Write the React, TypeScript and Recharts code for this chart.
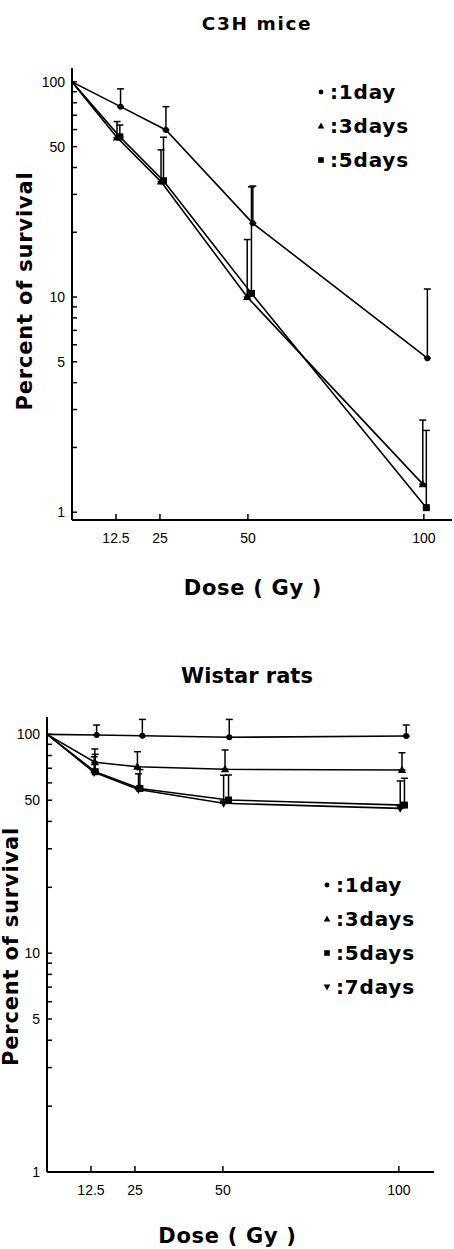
import React from "react";
import { LineChart, Line, XAxis, YAxis, ErrorBar, Legend, Label } from "recharts";

const doseTicks = [12.5, 25, 50, 100];
const doseTickLabels = ["12.5", "25", "50", "100"];
const survivalTicks = [1, 2, 3, 4, 5, 6, 7, 8, 9, 10, 20, 30, 40, 50, 60, 70, 80, 90, 100];
const survivalTickLabels = [1, 5, 10, 50, 100];

// C3H mice (doses read where the marks sit, they are a bit offset in the figure)
const mice1dDose = [0, 13.8, 26.7, 51.4, 101.0];
const mice1dSurv = [100, 76.7, 59.8, 22.0, 5.2];
const mice1dTop = [null, 92.8, 76.7, 32.8, 10.9];
const mice3dDose = [0, 12.8, 25.3, 49.8, 99.7];
const mice3dSurv = [100, 55.1, 34.4, 10.0, 1.35];
const mice3dTop = [null, 65.4, 48.3, 18.5, 2.68];
const mice5dDose = [0, 13.6, 26.0, 51.0, 100.7];
const mice5dSurv = [100, 55.5, 34.7, 10.4, 1.05];
const mice5dTop = [null, 63, 55.3, 32.5, 2.4];

// Wistar rats
const rat1dDose = [0, 14.1, 27.1, 51.8, 102.1];
const rat1dSurv = [100, 99.3, 98.5, 96.9, 98.2];
const rat1dTop = [null, 110.3, 117, 117, 110.3];
const rat3dDose = [0, 13.6, 25.7, 50.6, 100.9];
const rat3dSurv = [100, 74.5, 71.1, 69.2, 68.7];
const rat3dTop = [null, 85.7, 83.3, 84.8, 82.4];
const rat5dDose = [0, 13.7, 26.4, 51.6, 101.6];
const rat5dSurv = [100, 67.5, 56.6, 50.1, 47.5];
const rat5dTop = [null, 81, 69, 65.2, 63];
const rat7dDose = [0, 13.4, 26.0, 50.2, 100.4];
const rat7dSurv = [100, 67.0, 56.0, 48.4, 45.9];
const rat7dTop = [null, 79, 66, 65, 61.2];

const rows = (dose: number[], surv: number[], top: (number | null)[]) =>
  dose.map((d, i) => ({
    dose: d,
    surv: surv[i],
    err: top[i] == null ? undefined : [0, (top[i] as number) - surv[i]],
  }));

const shapeOf: Record<string, string> = { "1day": "circle", "3days": "up", "5days": "square", "7days": "down" };

const boldFont = "'DejaVu Sans', sans-serif";
const tickFont = "'Liberation Sans', Arial, sans-serif";

function Mark({ cx, cy, shape, s = 1 }: any) {
  if (shape === "circle") return <circle cx={cx} cy={cy} r={3 * s} fill="#000" />;
  if (shape === "up")
    return <polygon points={`${cx},${cy - 4.5 * s} ${cx + 4.2 * s},${cy + 3 * s} ${cx - 4.2 * s},${cy + 3 * s}`} fill="#000" />;
  if (shape === "down")
    return <polygon points={`${cx},${cy + 4.5 * s} ${cx + 4.2 * s},${cy - 3 * s} ${cx - 4.2 * s},${cy - 3 * s}`} fill="#000" />;
  return <rect x={cx - 3.5 * s} y={cy - 3.5 * s} width={7 * s} height={7 * s} fill="#000" />;
}

const dotFor = (shape: string) => (p: any) => {
  if (p.payload?.dose === 0 || p.cx == null) return <g key={p.index} />;
  return <Mark key={p.index} cx={p.cx} cy={p.cy} shape={shape} />;
};

function XTick({ x, y, payload }: any) {
  const i = doseTicks.indexOf(payload.value);
  return (
    <g>
      <line x1={x} x2={x} y1={y} y2={y - 6} stroke="#000" strokeWidth={1.5} />
      <text x={x} y={y + 23} textAnchor="middle" fontFamily={tickFont} fontSize={14} fill="#000">
        {doseTickLabels[i]}
      </text>
    </g>
  );
}

function YTick({ x, y, payload }: any) {
  const show = survivalTickLabels.includes(payload.value);
  return (
    <g>
      <line x1={x} x2={x + 5} y1={y} y2={y} stroke="#000" strokeWidth={1.5} />
      {show && (
        <text x={x - 7} y={y} dy="0.36em" textAnchor="end" fontFamily={tickFont} fontSize={14} fill="#000">
          {payload.value}
        </text>
      )}
    </g>
  );
}

const xTitle = (dx: number, base: number) => (props: any) => {
  const vb = props.viewBox;
  return (
    <text x={vb.x + vb.width / 2 + dx} y={vb.y + base} textAnchor="middle" fontFamily={boldFont} fontWeight="bold" fontSize={21} style={{ letterSpacing: 0.7 }} fill="#000">
      {props.value}
    </text>
  );
};

const yTitle = (bx: number, dy: number) => (props: any) => {
  const vb = props.viewBox;
  const cy = vb.y + vb.height / 2 + dy;
  return (
    <text transform={`translate(${bx}, ${cy}) rotate(-90)`} textAnchor="middle" fontFamily={boldFont} fontWeight="bold" fontSize={21} style={{ letterSpacing: 0.8 }} fill="#000">
      {props.value}
    </text>
  );
};

function LegendList({ payload }: any) {
  return (
    <div style={{ fontFamily: boldFont, fontWeight: "bold", fontSize: 20, letterSpacing: 0.8, color: "#000", whiteSpace: "nowrap" }}>
      {(payload || []).map((e: any) => (
        <div key={e.value} style={{ display: "flex", alignItems: "center", height: 34 }}>
          <svg width={10} height={10} style={{ marginRight: 4 }}>
            <Mark cx={5} cy={5} shape={shapeOf[e.value]} s={0.8} />
          </svg>
          <span>:{e.value}</span>
        </div>
      ))}
    </div>
  );
}

const axisLine = { stroke: "#000", strokeWidth: 2 };

export default function App() {
  return (
    <div style={{ position: "absolute", left: 0, top: 0, width: 454, height: 1249, background: "#fff" }}>
      <div style={{ position: "absolute", left: 0, top: 0 }}>
        <LineChart width={454} height={620} margin={{ top: 68, right: 2, bottom: 0, left: 0 }}>
          <text x={257} y={30} textAnchor="middle" fontFamily={boldFont} fontWeight="bold" fontSize={18.5} style={{ letterSpacing: 1.6 }} fill="#000">
            C3H mice
          </text>
          <XAxis type="number" dataKey="dose" domain={[0, 108]} allowDataOverflow ticks={doseTicks} interval={0} tickSize={0} tickMargin={0} tickLine={false} tick={<XTick />} height={100} axisLine={axisLine}>
            <Label value="Dose ( Gy )" content={xTitle(-9, 75)} />
          </XAxis>
          <YAxis type="number" scale="log" domain={[0.92, 116]} allowDataOverflow ticks={survivalTicks} interval={0} tickSize={0} tickMargin={0} tickLine={false} tick={<YTick />} width={72} axisLine={axisLine}>
            <Label value="Percent of survival" content={yTitle(32, -3)} />
          </YAxis>
          <Legend layout="vertical" align="center" verticalAlign="middle" wrapperStyle={{ left: 316, top: 75 }} content={<LegendList />} />
          <Line data={rows(mice1dDose, mice1dSurv, mice1dTop)} dataKey="surv" name="1day" stroke="#000" strokeWidth={1.6} dot={dotFor("circle")} isAnimationActive={false}>
            <ErrorBar dataKey="err" direction="y" width={3.5} stroke="#000" strokeWidth={1.5} />
          </Line>
          <Line data={rows(mice3dDose, mice3dSurv, mice3dTop)} dataKey="surv" name="3days" stroke="#000" strokeWidth={1.6} dot={dotFor("up")} isAnimationActive={false}>
            <ErrorBar dataKey="err" direction="y" width={3.5} stroke="#000" strokeWidth={1.5} />
          </Line>
          <Line data={rows(mice5dDose, mice5dSurv, mice5dTop)} dataKey="surv" name="5days" stroke="#000" strokeWidth={1.6} dot={dotFor("square")} isAnimationActive={false}>
            <ErrorBar dataKey="err" direction="y" width={3.5} stroke="#000" strokeWidth={1.5} />
          </Line>
        </LineChart>
      </div>
      <div style={{ position: "absolute", left: 0, top: 620 }}>
        <LineChart width={454} height={629} margin={{ top: 97, right: 20, bottom: 0, left: 0 }}>
          <text x={247} y={63} textAnchor="middle" fontFamily={boldFont} fontWeight="bold" fontSize={21} fill="#000">
            Wistar rats
          </text>
          <XAxis type="number" dataKey="dose" domain={[0, 110]} allowDataOverflow ticks={doseTicks} interval={0} tickSize={0} tickMargin={0} tickLine={false} tick={<XTick />} height={77} axisLine={axisLine}>
            <Label value="Dose ( Gy )" content={xTitle(-13, 71)} />
          </XAxis>
          <YAxis type="number" scale="log" domain={[1, 120]} allowDataOverflow ticks={survivalTicks} interval={0} tickSize={0} tickMargin={0} tickLine={false} tick={<YTick />} width={47} axisLine={axisLine}>
            <Label value="Percent of survival" content={yTitle(18, 2)} />
          </YAxis>
          <Legend layout="vertical" align="center" verticalAlign="middle" wrapperStyle={{ left: 322, top: 248 }} content={<LegendList />} />
          <Line data={rows(rat1dDose, rat1dSurv, rat1dTop)} dataKey="surv" name="1day" stroke="#000" strokeWidth={1.6} dot={dotFor("circle")} isAnimationActive={false}>
            <ErrorBar dataKey="err" direction="y" width={3.5} stroke="#000" strokeWidth={1.5} />
          </Line>
          <Line data={rows(rat3dDose, rat3dSurv, rat3dTop)} dataKey="surv" name="3days" stroke="#000" strokeWidth={1.6} dot={dotFor("up")} isAnimationActive={false}>
            <ErrorBar dataKey="err" direction="y" width={3.5} stroke="#000" strokeWidth={1.5} />
          </Line>
          <Line data={rows(rat5dDose, rat5dSurv, rat5dTop)} dataKey="surv" name="5days" stroke="#000" strokeWidth={1.6} dot={dotFor("square")} isAnimationActive={false}>
            <ErrorBar dataKey="err" direction="y" width={3.5} stroke="#000" strokeWidth={1.5} />
          </Line>
          <Line data={rows(rat7dDose, rat7dSurv, rat7dTop)} dataKey="surv" name="7days" stroke="#000" strokeWidth={1.6} dot={dotFor("down")} isAnimationActive={false}>
            <ErrorBar dataKey="err" direction="y" width={3.5} stroke="#000" strokeWidth={1.5} />
          </Line>
        </LineChart>
      </div>
    </div>
  );
}
